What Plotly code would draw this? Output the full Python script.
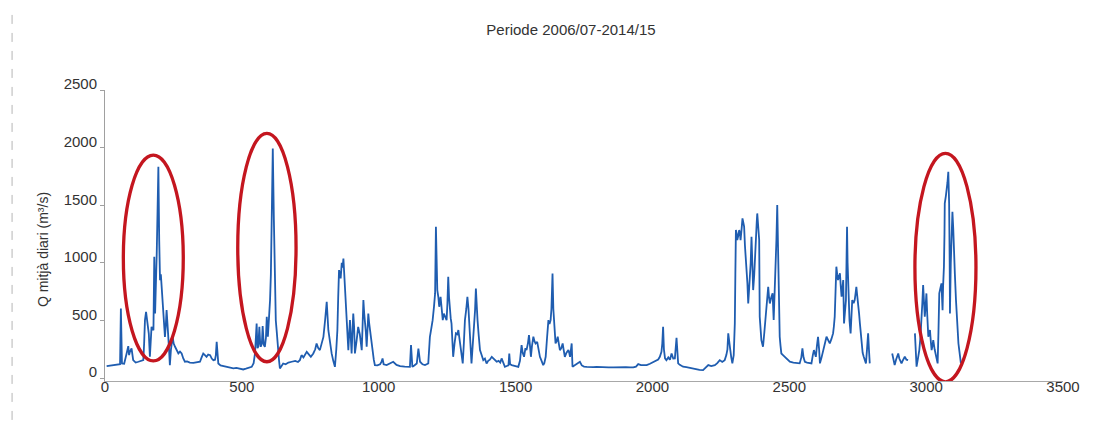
import plotly.graph_objects as go

# ---- data (day index, mean daily discharge m3/s) ----
day = [
    6, 20, 35, 50, 55, 58, 62, 70, 76, 79, 85, 88, 91, 97, 103, 112, 122, 132, 140, 143,
    146, 150, 155, 160, 164, 167, 170, 177, 180, 183, 186, 189, 192, 195, 198, 201, 204, 207, 210, 213,
    216, 219, 222, 225, 228, 231, 234, 237, 241, 247, 251, 256, 262, 268, 274, 280, 286, 292, 300, 310,
    323, 335, 347, 353, 359, 365, 371, 377, 384, 390, 396, 402, 405, 408, 411, 414, 422, 432, 445, 458,
    469, 480, 492, 505, 515, 525, 536, 543, 548, 554, 557, 560, 564, 567, 569, 573, 576, 580, 584, 588,
    591, 595, 599, 603, 606, 609, 613, 617, 619, 621, 624, 627, 630, 633, 636, 639, 645, 651, 660, 670,
    682, 695, 705, 712, 718, 725, 737, 745, 752, 761, 768, 773, 779, 785, 791, 798, 804, 810, 816, 822,
    828, 834, 840, 845, 849, 852, 855, 858, 861, 865, 868, 871, 874, 877, 880, 883, 886, 889, 892, 895,
    898, 901, 904, 907, 910, 913, 919, 925, 931, 935, 938, 941, 944, 947, 950, 953, 956, 959, 962, 965,
    968, 972, 978, 982, 986, 995, 1005, 1010, 1014, 1018, 1029, 1041, 1053, 1065, 1078, 1095, 1114, 1118, 1123, 1130,
    1139, 1145, 1151, 1160, 1169, 1181, 1187, 1192, 1197, 1202, 1206, 1209, 1212, 1214, 1218, 1221, 1226, 1230, 1234, 1238,
    1242, 1248, 1251, 1254, 1257, 1260, 1263, 1266, 1269, 1272, 1277, 1282, 1287, 1291, 1294, 1297, 1302, 1307, 1311, 1315,
    1320, 1324, 1328, 1331, 1335, 1339, 1344, 1349, 1352, 1355, 1358, 1361, 1365, 1370, 1376, 1382, 1388, 1394, 1400, 1406,
    1413, 1419, 1425, 1431, 1438, 1444, 1449, 1455, 1461, 1468, 1474, 1477, 1480, 1486, 1495, 1503, 1510, 1516, 1522, 1526,
    1531, 1536, 1540, 1545, 1549, 1552, 1556, 1560, 1565, 1569, 1573, 1579, 1584, 1589, 1595, 1601, 1605, 1610, 1615, 1620,
    1624, 1628, 1631, 1635, 1638, 1640, 1643, 1646, 1650, 1654, 1658, 1662, 1667, 1672, 1676, 1680, 1686, 1693, 1696, 1699,
    1702, 1705, 1708, 1715, 1722, 1728, 1735, 1742, 1750, 1760, 1772, 1784, 1796, 1810, 1825, 1840, 1857, 1872, 1888, 1903,
    1918, 1930, 1940, 1948, 1958, 1968, 1979, 1991, 2003, 2012, 2021, 2027, 2033, 2036, 2039, 2042, 2046, 2051, 2058, 2064,
    2070, 2076, 2082, 2088, 2091, 2094, 2100, 2106, 2112, 2124, 2137, 2149, 2160, 2172, 2185, 2195, 2204, 2215, 2228, 2237,
    2246, 2255, 2264, 2270, 2274, 2277, 2280, 2283, 2288, 2292, 2297, 2301, 2303, 2305, 2308, 2310, 2314, 2317, 2320, 2322,
    2326, 2329, 2332, 2335, 2338, 2341, 2344, 2347, 2350, 2353, 2356, 2359, 2362, 2365, 2368, 2372, 2375, 2378, 2381, 2383,
    2386, 2390, 2392, 2395, 2398, 2401, 2404, 2409, 2414, 2418, 2423, 2426, 2429, 2434, 2439, 2443, 2447, 2450, 2453, 2456,
    2459, 2461, 2463, 2465, 2468, 2471, 2477, 2484, 2493, 2502, 2515, 2527, 2538, 2544, 2548, 2552, 2557, 2565, 2573, 2581,
    2586, 2590, 2594, 2597, 2601, 2605, 2609, 2612, 2618, 2624, 2630, 2636, 2642, 2648, 2654, 2660, 2663, 2666, 2669, 2672,
    2675, 2678, 2681, 2685, 2688, 2691, 2694, 2697, 2700, 2703, 2707, 2709, 2711, 2713, 2716, 2720, 2724, 2727, 2730, 2735,
    2739, 2742, 2745, 2748, 2752, 2755, 2758, 2761, 2764, 2768, 2772, 2776, 2780, 2784, 2788, 2791, 2794, None,
    2876, 2880, 2885, 2890, 2894, 2898, 2902, 2906, 2910, 2914, 2918, 2922, 2928, 2934, None,
    2959, 2962, 2965, 2970, 2975, 2979, 2983, 2986, 2989, 2992, 2995, 2998, 3001, 3004, 3008, 3011, 3014, 3017, 3020, 3023,
    3026, 3031, 3036, 3042, 3045, 3048, 3052, 3056, 3058, 3060, 3062, 3065, 3067, 3068, 3072, 3075, 3078, 3081, 3084, 3086,
    3087, 3090, 3093, 3096, 3099, 3101, 3105, 3109, 3112, 3115, 3118, 3121, 3124, 3127,
]

q_daily = [
    104, 108, 112, 118, 121, 604, 127, 125, 170, 214, 277, 200, 228, 257, 156, 135, 142, 150, 156, 300,
    503, 575, 445, 387, 185, 330, 445, 416, 1053, 561, 1000, 1082, 1450, 1834, 1200, 850, 900, 792, 700, 532,
    420, 358, 450, 590, 480, 387, 250, 113, 250, 358, 300, 272, 240, 214, 230, 214, 170, 142, 145, 135,
    133, 140, 142, 180, 214, 200, 185, 205, 199, 170, 156, 160, 200, 315, 180, 127, 110, 104, 95, 90,
    84, 88, 80, 75, 82, 90, 98, 130, 214, 474, 260, 272, 445, 300, 272, 300, 451, 290, 272, 350,
    532, 360, 480, 677, 900, 1660, 1993, 1371, 1000, 619, 500, 416, 300, 214, 150, 84, 110, 127, 120, 135,
    142, 150, 140, 156, 199, 180, 228, 200, 185, 214, 250, 301, 260, 243, 300, 358, 500, 662, 416, 300,
    214, 150, 98, 250, 416, 700, 937, 900, 865, 1000, 960, 1038, 900, 792, 650, 532, 400, 243, 380, 503,
    350, 214, 400, 561, 450, 214, 320, 445, 380, 300, 243, 450, 677, 560, 503, 400, 272, 400, 561, 480,
    416, 330, 214, 160, 113, 110, 120, 140, 170, 120, 113, 125, 142, 115, 104, 100, 98, 286, 98, 110,
    127, 257, 142, 120, 113, 127, 359, 430, 503, 620, 735, 1313, 900, 764, 700, 619, 706, 600, 503, 560,
    532, 503, 650, 880, 700, 590, 520, 474, 300, 185, 300, 388, 380, 417, 360, 301, 200, 127, 300, 503,
    600, 706, 600, 503, 300, 127, 300, 480, 590, 778, 600, 503, 380, 243, 200, 156, 170, 127, 150, 160,
    185, 170, 150, 142, 150, 135, 171, 130, 98, 105, 110, 214, 120, 113, 105, 100, 98, 150, 286, 220,
    185, 260, 243, 300, 373, 300, 185, 280, 359, 320, 301, 315, 250, 185, 150, 113, 130, 185, 350, 503,
    470, 503, 600, 908, 600, 503, 400, 301, 320, 359, 300, 243, 260, 301, 240, 185, 220, 243, 220, 185,
    240, 301, 98, 110, 120, 130, 142, 110, 100, 98, 95, 96, 98, 95, 92, 94, 93, 95, 92, 96,
    94, 93, 100, 121, 112, 110, 113, 125, 142, 150, 162, 185, 228, 300, 446, 250, 171, 156, 180, 160,
    214, 170, 171, 350, 200, 128, 115, 105, 99, 95, 88, 84, 80, 72, 70, 90, 113, 105, 113, 130,
    156, 140, 156, 200, 250, 388, 300, 272, 180, 128, 200, 475, 900, 1285, 1250, 1198, 1240, 1285, 1250, 1198,
    1300, 1386, 1350, 1314, 1150, 1053, 950, 822, 648, 750, 851, 1000, 1227, 1000, 764, 900, 1100, 1256, 1350, 1429,
    1300, 1198, 533, 420, 330, 300, 272, 400, 533, 650, 793, 700, 648, 700, 735, 504, 750, 967, 1200, 1502,
    1000, 764, 550, 359, 280, 214, 200, 185, 160, 142, 135, 130, 128, 180, 258, 180, 142, 135, 130, 128,
    200, 243, 210, 185, 280, 359, 250, 128, 180, 243, 300, 359, 330, 301, 340, 388, 450, 533, 750, 967,
    900, 851, 880, 909, 800, 706, 780, 851, 475, 600, 677, 1000, 1314, 1000, 677, 500, 388, 550, 677, 650,
    677, 730, 793, 720, 648, 560, 475, 380, 272, 220, 185, 150, 128, 250, 388, 250, 128, None,
    214, 150, 113, 160, 190, 214, 170, 140, 128, 150, 170, 185, 160, 156, None,
    388, 200, 99, 170, 243, 350, 475, 650, 807, 700, 533, 620, 735, 550, 359, 390, 417, 320, 243, 280,
    330, 250, 185, 128, 400, 735, 780, 822, 700, 590, 800, 967, 1250, 1516, 1580, 1632, 1700, 1791, 1516, 1000,
    561, 1000, 1400, 1444, 1300, 1111, 900, 677, 500, 388, 300, 243, 180, 128,
]

x_tick_values = [0, 500, 1000, 1500, 2000, 2500, 3000, 3500]
y_tick_values = [0, 500, 1000, 1500, 2000, 2500]

title_text = "Periode 2006/07-2014/15"
y_title_text = "Q mitjà diari (m³/s)"

# highlighted episodes (red ellipses): day start, day end, Q low, Q high
highlight_day_start = [67, 485, 2959]
highlight_day_end = [286, 698, 3182]
highlight_q_low = [150, 142, -32]
highlight_q_high = [1935, 2123, 1950]

FONT = "Arial, 'Liberation Sans', sans-serif"

# the page body has an 8px default margin, so the figure is sized to fit
FIG_W, FIG_H = 1106, 420

fig = go.Figure()
fig.add_trace(go.Scatter(
    x=day, y=q_daily, mode="lines",
    line=dict(color="#1f5db0", width=1.8),
    connectgaps=False, showlegend=False,
))

for x0, x1, y0, y1 in zip(highlight_day_start, highlight_day_end,
                          highlight_q_low, highlight_q_high):
    fig.add_shape(type="circle", xref="x", yref="y",
                  x0=x0, x1=x1, y0=y0, y1=y1,
                  line=dict(color="#c4161f", width=3.3), layer="above")

# scan frame lines (left border and dotted top edge)
fig.add_shape(type="line", xref="paper", yref="paper",
              x0=-0.097, x1=-0.097, y0=1.258, y1=-0.17,
              line=dict(color="#b5b5b5", width=1, dash="dash"))
fig.add_shape(type="line", xref="paper", yref="paper",
              x0=-0.097, x1=1.05, y0=1.285, y1=1.285,
              line=dict(color="#b0b0b0", width=1, dash="dash"))

fig.update_layout(
    width=FIG_W, height=FIG_H, autosize=False,
    margin=dict(l=97, r=51, t=82, b=47),
    paper_bgcolor="white", plot_bgcolor="white",
    font=dict(family=FONT, size=15, color="#333333"),
    title=dict(text=title_text, x=(571 - 8) / FIG_W, xanchor="center",
               y=1 - (30 - 8) / FIG_H, yanchor="middle",
               font=dict(family=FONT, size=15, color="#333333")),
    showlegend=False,
)

fig.add_annotation(text=y_title_text, xref="paper", yref="paper",
                   x=-0.0647, y=0.45, textangle=-90, showarrow=False,
                   xanchor="center", yanchor="middle",
                   font=dict(family=FONT, size=14, color="#333333"))

fig.update_xaxes(range=[0, 3500], tickvals=x_tick_values,
                 showgrid=False, zeroline=False,
                 showline=True, linecolor="#a8a8a8", linewidth=1,
                 ticks="", ticklen=0, ticklabelstandoff=-8,
                 tickfont=dict(family=FONT, size=15, color="#333333"))
fig.update_yaxes(range=[-25, 2500], tickvals=y_tick_values,
                 showgrid=False, zeroline=False,
                 showline=True, linecolor="#a0a0a0", linewidth=1,
                 ticks="outside", ticklen=4, tickcolor="#a0a0a0",
                 ticklabelshift=-6,
                 tickfont=dict(family=FONT, size=15, color="#333333"))

fig.write_html("out.html")
